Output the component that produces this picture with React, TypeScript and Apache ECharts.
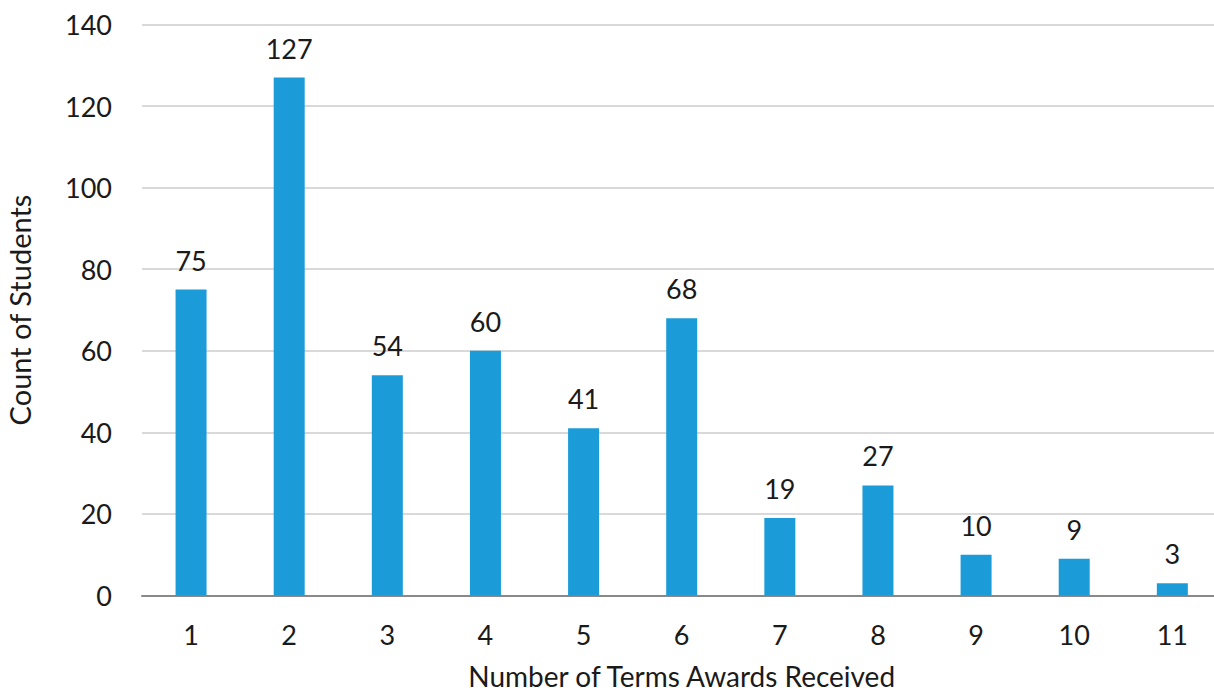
import React, { useEffect, useRef } from "react";
import * as echarts from "echarts";

const categories = ["1", "2", "3", "4", "5", "6", "7", "8", "9", "10", "11"];
const counts = [75, 127, 54, 60, 41, 68, 19, 27, 10, 9, 3];
const xTitle = "Number of Terms Awards Received";
const yTitle = "Count of Students";

const FONT = "Lato";
const TXT = "#1a1a1a";

export default function App() {
  const ref = useRef<HTMLDivElement>(null);
  useEffect(() => {
    const chart = echarts.init(ref.current!, null, { renderer: "svg" });
    chart.setOption({
      animation: false,
      backgroundColor: "#ffffff",
      textStyle: { fontFamily: FONT },
      grid: {
        left: 142,
        top: 24.5,
        width: 1079.4,
        height: 571,
        containLabel: false,
        outerBoundsMode: "none",
      },
      xAxis: {
        type: "category",
        data: categories,
        name: xTitle,
        nameLocation: "middle",
        nameGap: 69,
        nameTextStyle: { fontFamily: FONT, fontSize: 28, lineHeight: 22, color: TXT },
        axisLine: { lineStyle: { color: "#898989", width: 2 } },
        axisTick: { show: false },
        axisLabel: { fontFamily: FONT, fontSize: 27, color: TXT, margin: 25 },
      },
      yAxis: {
        type: "value",
        min: 0,
        max: 140,
        interval: 20,
        name: yTitle,
        nameLocation: "middle",
        nameGap: 108,
        nameTextStyle: { fontFamily: FONT, fontSize: 29, color: TXT },
        axisLine: { show: false },
        axisTick: { show: false },
        axisLabel: { fontFamily: FONT, fontSize: 27, color: TXT, margin: 30 },
        splitLine: { lineStyle: { color: "#d9d9d9", width: 2 } },
      },
      series: [
        {
          type: "bar",
          data: counts,
          barWidth: 31,
          itemStyle: { color: "#1b9cd9" },
          label: {
            show: true,
            position: "top",
            distance: 16,
            fontFamily: FONT,
            fontSize: 27,
            color: TXT,
          },
        },
      ],
    });
    return () => chart.dispose();
  }, []);
  return (
    <div
      ref={ref}
      style={{ position: "fixed", left: 0, top: 0, width: 1214, height: 694 }}
    />
  );
}
